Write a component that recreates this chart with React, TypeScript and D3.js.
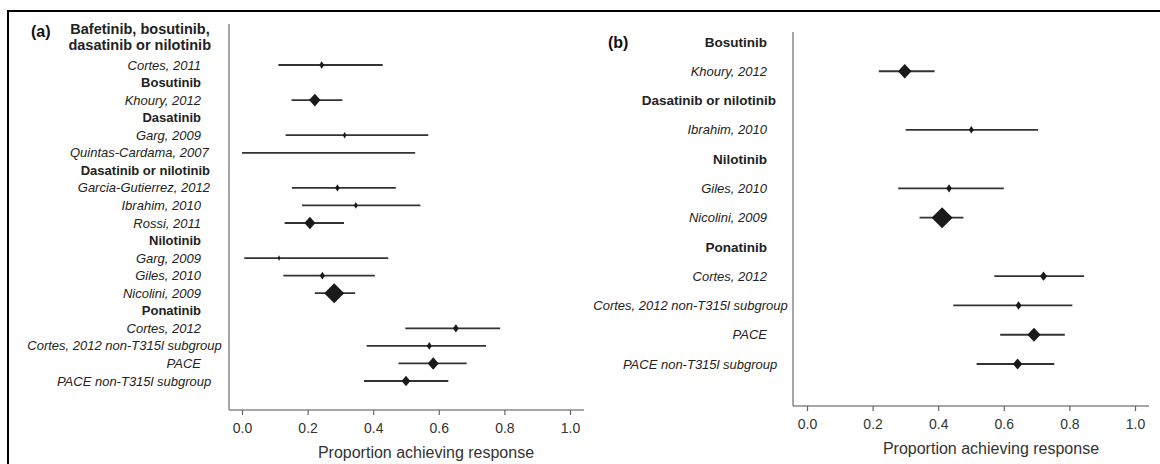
import * as d3 from "d3";
import { useRef, useEffect } from "react";

// panel (a): all trials
const headerA = ["Bafetinib, bosutinib,", "dasatinib or nilotinib"];
const rowsA = [
  "Cortes, 2011",
  "Bosutinib",
  "Khoury, 2012",
  "Dasatinib",
  "Garg, 2009",
  "Quintas-Cardama, 2007",
  "Dasatinib or nilotinib",
  "Garcia-Gutierrez, 2012",
  "Ibrahim, 2010",
  "Rossi, 2011",
  "Nilotinib",
  "Garg, 2009",
  "Giles, 2010",
  "Nicolini, 2009",
  "Ponatinib",
  "Cortes, 2012",
  "Cortes, 2012 non-T315l subgroup",
  "PACE",
  "PACE non-T315l subgroup",
];
const estA = [0.243, 0.222, 0.313, 0.25, 0.291, 0.347, 0.207, 0.113, 0.245, 0.281, 0.652, 0.571, 0.583, 0.5];
const lowA = [0.111, 0.151, 0.133, 0.0, 0.152, 0.183, 0.13, 0.007, 0.126, 0.222, 0.498, 0.38, 0.477, 0.372];
const highA = [0.429, 0.306, 0.568, 0.528, 0.469, 0.544, 0.311, 0.446, 0.405, 0.345, 0.787, 0.744, 0.685, 0.629];
const weightA = [24, 57, 18, 0, 23, 20, 55, 13, 26, 100, 30, 25, 55, 43];

// panel (b)
const rowsB = [
  "Bosutinib",
  "Khoury, 2012",
  "Dasatinib or nilotinib",
  "Ibrahim, 2010",
  "Nilotinib",
  "Giles, 2010",
  "Nicolini, 2009",
  "Ponatinib",
  "Cortes, 2012",
  "Cortes, 2012 non-T315l subgroup",
  "PACE",
  "PACE non-T315l subgroup",
];
const estB = [0.298, 0.501, 0.433, 0.412, 0.721, 0.645, 0.692, 0.642];
const lowB = [0.219, 0.301, 0.278, 0.343, 0.571, 0.446, 0.589, 0.517];
const highB = [0.389, 0.704, 0.6, 0.477, 0.845, 0.809, 0.786, 0.754];
const weightB = [68, 25, 28, 105, 36, 30, 66, 47];

const groupNames = ["Bosutinib", "Dasatinib", "Dasatinib or nilotinib", "Nilotinib", "Ponatinib"];
const ticks = [0, 0.2, 0.4, 0.6, 0.8, 1.0];
const axisTitle = "Proportion achieving response";

const FONT = "'Liberation Sans', Arial, sans-serif";

type Panel = {
  tag: string;
  tagX: number;
  tagY: number;
  rows: string[];
  est: number[];
  low: number[];
  high: number[];
  weight: number[];
  header?: string[];
  axisX: number;
  x0: number;
  x1: number;
  axisEnd: number;
  top: number;
  bottom: number;
  rowFirst: number;
  rowLast: number;
  labelEnd: number;
  groupSize: number;
};

// long labels sit a bit further right in the original
const labelShift = (s: string) => (s.length > 20 ? 9 + (s.length - 22) * 1.3 : 0);

function drawPanel(svg: d3.Selection<SVGSVGElement, unknown, null, undefined>, p: Panel) {
  const g = svg.append("g");
  const x = d3.scaleLinear().domain([0, 1]).range([p.x0, p.x1]);
  const y = d3.scaleLinear().domain([0, p.rows.length - 1]).range([p.rowFirst, p.rowLast]);
  const half = d3.scaleLinear().domain([0, 100]).range([0, 10]);

  g.append("text")
    .attr("x", p.tagX)
    .attr("y", p.tagY)
    .attr("font-weight", "bold")
    .attr("font-size", 16)
    .attr("fill", "#111")
    .text(p.tag);

  if (p.header) {
    p.header.forEach((h, i) => {
      g.append("text")
        .attr("x", p.labelEnd + labelShift(h) + 1)
        .attr("y", y(-1.6) + (i === 0 ? -8 : 8))
        .attr("dy", "0.35em")
        .attr("text-anchor", "end")
        .attr("font-weight", "bold")
        .attr("font-size", 14.5)
        .attr("fill", "#222")
        .text(h);
    });
  }

  const rows = p.rows.map((label, i) => ({ label, i, group: groupNames.includes(label) }));
  const studies = rows.filter((r) => !r.group).map((r, k) => ({
    ...r,
    est: p.est[k],
    low: p.low[k],
    high: p.high[k],
    w: p.weight[k],
  }));

  g.selectAll(".lab")
    .data(rows)
    .join("text")
    .attr("x", (d) => p.labelEnd + labelShift(d.label))
    .attr("y", (d) => y(d.i))
    .attr("dy", "0.35em")
    .attr("text-anchor", "end")
    .attr("font-size", (d) => (d.group ? p.groupSize : 13))
    .attr("font-weight", (d) => (d.group ? "bold" : "normal"))
    .attr("font-style", (d) => (d.group ? "normal" : "italic"))
    .attr("fill", "#222")
    .text((d) => d.label);

  // confidence intervals
  g.selectAll(".ci")
    .data(studies)
    .join("line")
    .attr("x1", (d) => x(d.low))
    .attr("x2", (d) => x(d.high))
    .attr("y1", (d) => y(d.i))
    .attr("y2", (d) => y(d.i))
    .attr("stroke", "#333")
    .attr("stroke-width", 1.8);

  // weighted diamonds
  g.selectAll(".pt")
    .data(studies.filter((d) => d.w > 0))
    .join("path")
    .attr("d", (d) => {
      const hw = half(d.w);
      const hh = Math.max(hw, hw * 0.8 + 1.8);
      const cx = x(d.est);
      const cy = y(d.i);
      return `M${cx - hw},${cy}L${cx},${cy - hh}L${cx + hw},${cy}L${cx},${cy + hh}Z`;
    })
    .attr("fill", "#1a1a1a");

  // axes
  g.append("line")
    .attr("x1", p.axisX)
    .attr("x2", p.axisX)
    .attr("y1", p.top)
    .attr("y2", p.bottom)
    .attr("stroke", "#888")
    .attr("stroke-width", 1.5);

  g.append("line")
    .attr("x1", p.axisX)
    .attr("x2", p.axisEnd)
    .attr("y1", p.bottom)
    .attr("y2", p.bottom)
    .attr("stroke", "#888")
    .attr("stroke-width", 1.5);

  const ax = g
    .append("g")
    .attr("transform", `translate(0,${p.bottom})`)
    .call(d3.axisBottom(x).tickValues(ticks).tickFormat(d3.format(".1f")).tickSize(5).tickPadding(8));
  ax.select(".domain").remove();
  ax.selectAll(".tick line").attr("stroke", "#666").attr("stroke-width", 1.2);
  ax.selectAll(".tick text").attr("fill", "#333").attr("font-size", 14).attr("font-family", FONT);

  g.append("text")
    .attr("x", x(0.5) + 20)
    .attr("y", p.bottom + 48)
    .attr("text-anchor", "middle")
    .attr("font-size", 16)
    .attr("fill", "#333")
    .text(axisTitle);
}

const App = () => {
  const svgref = useRef<SVGSVGElement>(null);

  useEffect(() => {
    const svg = d3.select(svgref.current!);
    svg.selectAll("*").remove();

    // frame: top and left edge only
    svg.append("line").attr("x1", 8).attr("x2", 1160).attr("y1", 11).attr("y2", 11).attr("stroke", "#000").attr("stroke-width", 2);
    svg.append("line").attr("x1", 8).attr("x2", 8).attr("y1", 10).attr("y2", 464).attr("stroke", "#000").attr("stroke-width", 2);

    drawPanel(svg, {
      tag: "(a)",
      tagX: 31,
      tagY: 37,
      rows: rowsA,
      est: estA,
      low: lowA,
      high: highA,
      weight: weightA,
      header: headerA,
      axisX: 229,
      x0: 242,
      x1: 570,
      axisEnd: 584,
      top: 24,
      bottom: 410,
      rowFirst: 65,
      rowLast: 381,
      labelEnd: 201,
      groupSize: 13,
    });

    drawPanel(svg, {
      tag: "(b)",
      tagX: 608,
      tagY: 48,
      rows: rowsB,
      est: estB,
      low: lowB,
      high: highB,
      weight: weightB,
      axisX: 793,
      x0: 807,
      x1: 1135,
      axisEnd: 1149,
      top: 32,
      bottom: 406,
      rowFirst: 42,
      rowLast: 364,
      labelEnd: 767,
      groupSize: 13.5,
    });
  }, []);

  return (
    <svg
      ref={svgref}
      width={1160}
      height={464}
      style={{ position: "absolute", left: 0, top: 0, background: "#fff", fontFamily: FONT }}
    ></svg>
  );
};

export default App;
